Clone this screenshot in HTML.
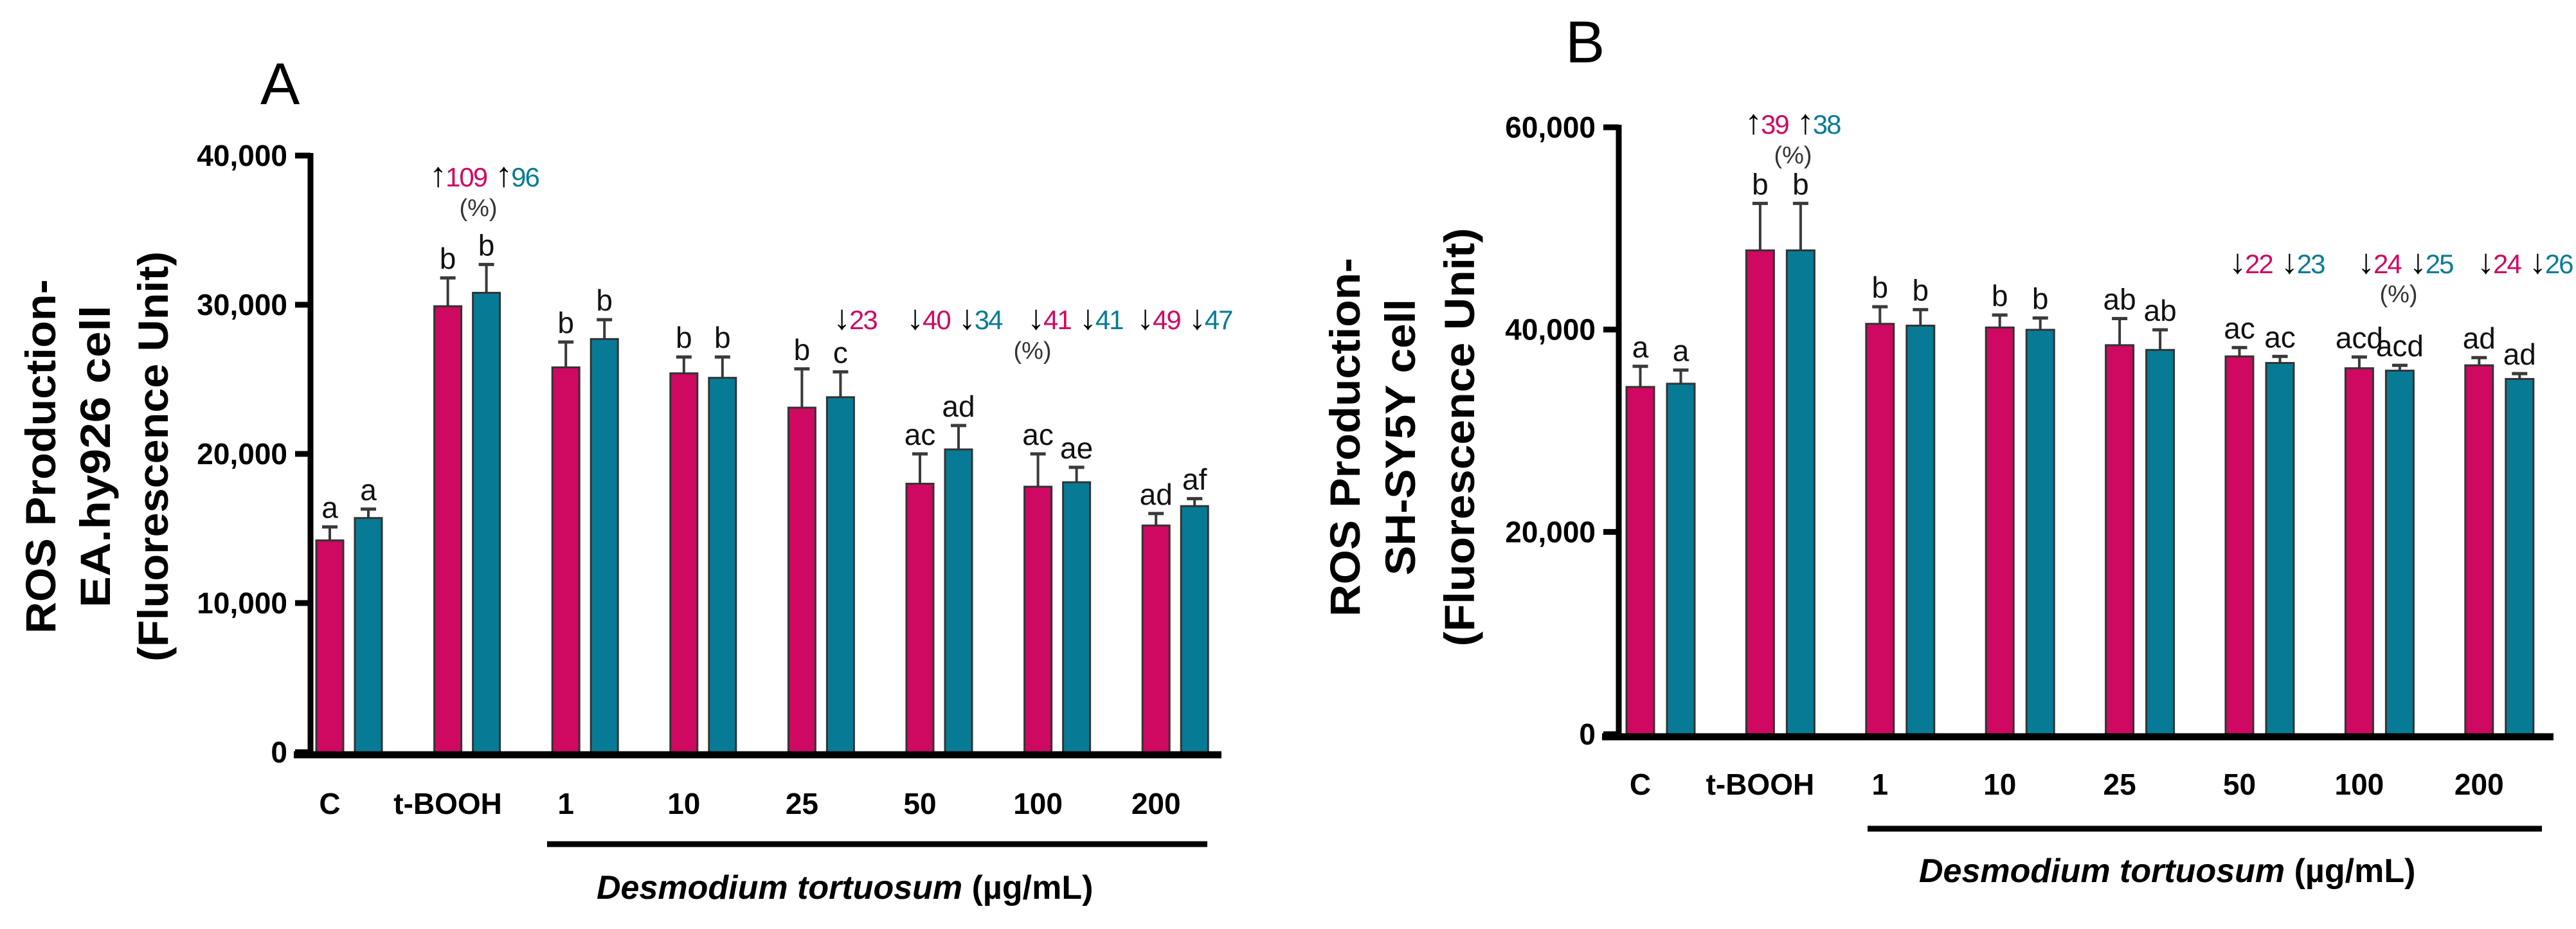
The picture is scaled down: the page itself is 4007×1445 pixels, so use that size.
<!DOCTYPE html>
<html><head><meta charset="utf-8"><style>
html,body{margin:0;padding:0;background:#fff}
svg{display:block}
text{font-family:"Liberation Sans",Arial,sans-serif}
</style></head><body>
<svg id="fig" width="4007" height="1445" viewBox="0 0 4007 1445" xmlns="http://www.w3.org/2000/svg"></svg>
<script>
// ---- data ----
const categories = ["C","t-BOOH","1","10","25","50","100","200"];
const aPink = [14200,29900,25800,25400,23100,18000,17800,15200];
const aTeal = [15700,30800,27700,25100,23800,20300,18100,16500];
const aPinkErr = [900,1900,1700,1100,2600,2000,2200,800];
const aTealErr = [600,1900,1300,1400,1700,1600,1000,500];
const aPinkLet = ["a","b","b","b","b","ac","ac","ad"];
const aTealLet = ["a","b","b","b","c","ad","ae","af"];
const aTicks = [0,10000,20000,30000,40000];
const aTickLabels = ["0","10,000","20,000","30,000","40,000"];

const bPink = [34330,47830,40570,40210,38460,37350,36180,36470];
const bTeal = [34650,47830,40390,39980,37990,36700,35940,35120];
const bPinkErr = [2040,4650,1690,1230,2630,870,1110,760];
const bTealErr = [1350,4650,1580,1170,1990,650,530,530];
const bPinkLet = ["a","b","b","b","ab","ac","acd","ad"];
const bTealLet = ["a","b","b","b","ab","ac","acd","ad"];
const bTicks = [0,20000,40000,60000];
const bTickLabels = ["0","20,000","40,000","60,000"];

const PINK="#cf0862", TEAL="#077b95";
const NS="http://www.w3.org/2000/svg";
const svg=document.getElementById('fig');
function mk(tag,attrs,parent,txt){const e=document.createElementNS(NS,tag);for(const k in attrs)e.setAttribute(k,attrs[k]);if(txt!==undefined)e.textContent=txt;(parent||svg).appendChild(e);return e;}

function panel(cfg){
  const g=mk('g',{});
  
  
  const y=v=>cfg.y0-(v/cfg.vmax)*(cfg.y0-cfg.ytop);
  const L=mk('text',{x:cfg.letterX,y:cfg.letterY,'font-size':92,fill:'#000'},g,cfg.letter);
  
  
  const tg=mk('g',{},g);
  
  
  cfg.titleLines.forEach((t,i)=>{
    const tx=cfg.titleX[i], ty=cfg.titleCY;
    mk('text',{x:tx,y:ty,'font-size':66,'font-weight':'bold','text-anchor':'middle','dominant-baseline':'central',transform:`rotate(-90 ${tx} ${ty})`,textLength:cfg.titleLen[i],lengthAdjust:'spacingAndGlyphs'},tg,t);
  });
  cfg.ticks.forEach((v,i)=>{
    const ty=y(v);
    const tl=mk('line',{x1:cfg.axisX-24,x2:cfg.axisX,y1:ty,y2:ty,stroke:'#000','stroke-width':9},g);
    
    
    const t=mk('text',{x:cfg.axisX-36,y:ty+16,'font-size':46,'font-weight':'bold','text-anchor':'end'},g,cfg.tickLabels[i]);
    
    
  });
  categories.forEach((c,i)=>{
    const px=cfg.x0+i*cfg.step, tx=px+cfg.tOff;
    [[px,cfg.pink[i],cfg.pinkErr[i],cfg.pinkLet[i],PINK,'pink'],[tx,cfg.teal[i],cfg.tealErr[i],cfg.tealLet[i],TEAL,'teal']].forEach(([bx,v,e,l,col,nm])=>{
      const cx=bx+cfg.bw/2, top=y(v), et=y(v+e);
      const el=mk('line',{x1:cx,x2:cx,y1:top,y2:et,stroke:'#3a3a3a','stroke-width':4},g);
      
      
      mk('line',{x1:cx-12,x2:cx+12,y1:et,y2:et,stroke:'#3a3a3a','stroke-width':5},g);
      const r=mk('rect',{x:bx,y:top,width:cfg.bw,height:cfg.y0-top,fill:col,stroke:'#333','stroke-width':3},g);
      
      
      const lt=mk('text',{x:cx,y:et-14,'font-size':46,'text-anchor':'middle',fill:'#111'},g,l);
      
      
    });
    const cl=mk('text',{x:px+cfg.bw/2,y:cfg.catY,'font-size':46,'font-weight':'bold','text-anchor':'middle'},g,c);
    
    
  });
  const ya=mk('line',{x1:cfg.axisX,x2:cfg.axisX,y1:cfg.ytop-4,y2:cfg.y0,stroke:'#000','stroke-width':9},g);
  
  
  const xa=mk('line',{x1:cfg.axisX-26,x2:cfg.xEnd,y1:cfg.y0+4,y2:cfg.y0+4,stroke:'#000','stroke-width':11},g);
  
  
  const ul=mk('line',{x1:cfg.ulX1,x2:cfg.ulX2,y1:cfg.ulY,y2:cfg.ulY,stroke:'#000','stroke-width':9},g);
  
  
  const it=mk('text',{x:cfg.itX,y:cfg.itY,'font-size':52,'font-weight':'bold'},g);
  
  
  mk('tspan',{'font-style':'italic'},it,'Desmodium tortuosum');
  mk('tspan',{},it,' (\u00b5g/mL)');
  cfg.ann.forEach(a=>{
    const t=mk('text',{x:a.x,y:a.y,'font-size':42,'letter-spacing':-2},g);
    
    
    a.parts.forEach(p=>{
      const isArrow=(p[0].indexOf(UP)>=0||p[0].indexOf(DN)>=0);
      mk('tspan',isArrow?{fill:p[1],'font-size':54,'font-weight':'bold'}:{fill:p[1]},t,p[0]);
    });
  });
  cfg.pct.forEach(p=>{
    const t=mk('text',{x:p[0],y:p[1],'font-size':38,'text-anchor':'middle',fill:'#333'},g,'(%)');
    
    
  });
}
const UP='\u2191', DN='\u2193';
panel({name:'panel-a',letter:'A',letterX:405,letterY:162,pink:aPink,teal:aTeal,pinkErr:aPinkErr,tealErr:aTealErr,pinkLet:aPinkLet,tealLet:aTealLet,
  ticks:aTicks,tickLabels:aTickLabels,vmax:40000,y0:1170,ytop:242,axisX:483,x0:492,step:183.6,tOff:60,bw:42,xEnd:1900,catY:1266,
  titleLines:['ROS Production-','EA.hy926 cell','(Fluorescence Unit)'],titleX:[63,148,238],titleCY:710,titleLen:[551,470,638],
  ulX1:851,ulX2:1878,ulY:1313,itX:928,itY:1398,
  ann:[{x:668,y:290,parts:[[UP,'#000'],['109',PINK],[' '+UP,'#000'],['96',TEAL]]},
       {x:1296,y:512,parts:[[DN,'#000'],['23',PINK]]},
       {x:1410,y:512,parts:[[DN,'#000'],['40',PINK],[' '+DN,'#000'],['34',TEAL]]},
       {x:1598,y:512,parts:[[DN,'#000'],['41',PINK],[' '+DN,'#000'],['41',TEAL]]},
       {x:1768,y:512,parts:[[DN,'#000'],['49',PINK],[' '+DN,'#000'],['47',TEAL]]}],
  pct:[[744,336],[1606,558]]});
panel({name:'panel-b',letter:'B',letterX:2435,letterY:97,pink:bPink,teal:bTeal,pinkErr:bPinkErr,tealErr:bTealErr,pinkLet:bPinkLet,tealLet:bTealLet,
  ticks:bTicks,tickLabels:bTickLabels,vmax:60000,y0:1142,ytop:198,axisX:2518,x0:2530,step:186.4,tOff:63,bw:43,xEnd:3972,catY:1236,
  titleLines:['ROS Production-','SH-SY5Y cell','(Fluorescence Unit)'],titleX:[2092,2178,2270],titleCY:680,titleLen:[558,430,651],
  ulX1:2905,ulX2:3954,ulY:1289,itX:2985,itY:1372,
  ann:[{x:2714,y:208,parts:[[UP,'#000'],['39',PINK],[' '+UP,'#000'],['38',TEAL]]},
       {x:3467,y:425,parts:[[DN,'#000'],['22',PINK],[' '+DN,'#000'],['23',TEAL]]},
       {x:3667,y:425,parts:[[DN,'#000'],['24',PINK],[' '+DN,'#000'],['25',TEAL]]},
       {x:3853,y:425,parts:[[DN,'#000'],['24',PINK],[' '+DN,'#000'],['26',TEAL]]}],
  pct:[[2789,254],[3731,470]]});
</script>
</body></html>
